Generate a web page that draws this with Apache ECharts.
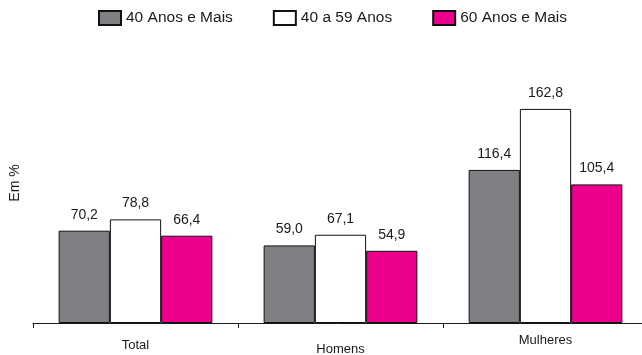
<!DOCTYPE html>
<html>
<head>
<meta charset="utf-8">
<script src="https://cdn.jsdelivr.net/npm/echarts@6/dist/echarts.min.js"></script>
<style>
  html, body { margin: 0; padding: 0; background: #fff; }
  #chart { width: 642px; height: 355px; }
</style>
</head>
<body>
<div id="chart"></div>
<script>
// Categories and series values (percentages)
const categories = ['Total', 'Homens', 'Mulheres'];
const seriesNames = ['40 Anos e Mais', '40 a 59 Anos', '60 Anos e Mais'];
const valores40Mais = [70.2, 59.0, 116.4];
const valores40a59 = [78.8, 67.1, 162.8];
const valores60Mais = [66.4, 54.9, 105.4];

// Per-category vertical offset of the axis labels
const categoryLabelPadding = [5, 9, 0];

const FONT = '"Liberation Sans", Arial, Helvetica, sans-serif';
const seriesColors = ['#7f8083', '#ffffff', '#ec008c'];
const seriesData = [valores40Mais, valores40a59, valores60Mais];

const fmt = v => v.toFixed(1).replace('.', ',');

const chart = echarts.init(document.getElementById('chart'), null, { renderer: 'canvas' });

chart.setOption({
  animation: false,
  backgroundColor: '#ffffff',
  textStyle: { fontFamily: FONT },
  legend: {
    top: 5,
    left: 93,
    icon: 'rect',
    itemWidth: 22,
    itemHeight: 14,
    itemGap: 40,
    textStyle: { fontFamily: FONT, fontSize: 15.5, color: '#1a1a1a' },
    data: seriesNames
  },
  grid: {
    left: 33, width: 615, top: 60, bottom: 32,
    containLabel: false,
    outerBoundsMode: 'none'
  },
  xAxis: {
    type: 'category',
    data: categories.map((c, i) => ({
      value: c,
      textStyle: { padding: [categoryLabelPadding[i], 0, 0, 0] }
    })),
    axisLine: { show: true, lineStyle: { color: '#1a1a1a', width: 1 } },
    axisTick: { show: true, inside: false, length: 5, lineStyle: { color: '#1a1a1a' } },
    axisLabel: { margin: 11, fontFamily: FONT, fontSize: 13, color: '#1a1a1a' }
  },
  yAxis: {
    type: 'value',
    min: 0,
    max: 200,
    name: 'Em %',
    nameLocation: 'middle',
    nameRotate: 90,
    nameGap: 11,
    nameTextStyle: { fontFamily: FONT, fontSize: 14, color: '#1a1a1a', padding: [0, 0, 0, 17] },
    axisLine: { show: false },
    axisTick: { show: false },
    axisLabel: { show: false },
    splitLine: { show: false }
  },
  series: seriesNames.map((name, i) => ({
    name: name,
    type: 'bar',
    data: seriesData[i],
    barGap: '0%',
    barCategoryGap: '25%',
    itemStyle: { color: seriesColors[i], borderColor: '#111', borderWidth: 1 },
    label: {
      show: true,
      position: 'top',
      distance: 9,
      fontFamily: FONT,
      fontSize: 14,
      color: '#1a1a1a',
      formatter: p => fmt(p.value)
    }
  }))
});
</script>
</body>
</html>
